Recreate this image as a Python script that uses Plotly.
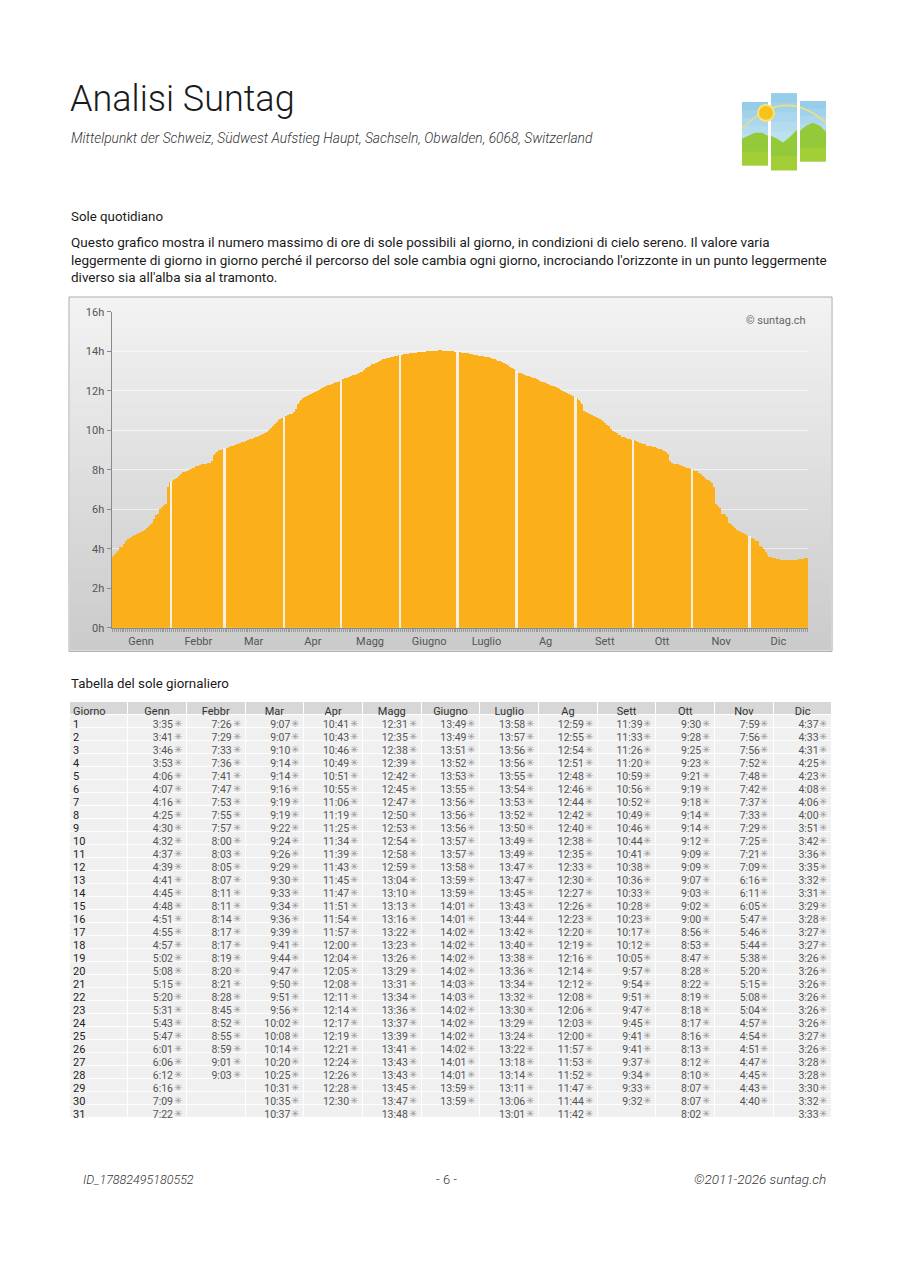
import plotly.graph_objects as go

# Dimensioni della pagina
W, H = 910, 1287

mesi = ['Genn', 'Febbr', 'Mar', 'Apr', 'Magg', 'Giugno', 'Luglio', 'Ag', 'Sett', 'Ott', 'Nov', 'Dic']

genn = ['3:35', '3:41', '3:46', '3:53', '4:06', '4:07', '4:16', '4:25', '4:30', '4:32', '4:37', '4:39', '4:41', '4:45', '4:48', '4:51',
        '4:55', '4:57', '5:02', '5:08', '5:15', '5:20', '5:31', '5:43', '5:47', '6:01', '6:06', '6:12', '6:16', '7:09', '7:22']
febbr = ['7:26', '7:29', '7:33', '7:36', '7:41', '7:47', '7:53', '7:55', '7:57', '8:00', '8:03', '8:05', '8:07', '8:11', '8:11', '8:14',
         '8:17', '8:17', '8:19', '8:20', '8:21', '8:28', '8:45', '8:52', '8:55', '8:59', '9:01', '9:03']
mar = ['9:07', '9:07', '9:10', '9:14', '9:14', '9:16', '9:19', '9:19', '9:22', '9:24', '9:26', '9:29', '9:30', '9:33', '9:34', '9:36',
       '9:39', '9:41', '9:44', '9:47', '9:50', '9:51', '9:56', '10:02', '10:08', '10:14', '10:20', '10:25', '10:31', '10:35', '10:37']
apr = ['10:41', '10:43', '10:46', '10:49', '10:51', '10:55', '11:06', '11:19', '11:25', '11:34', '11:39', '11:43', '11:45', '11:47', '11:51',
       '11:54', '11:57', '12:00', '12:04', '12:05', '12:08', '12:11', '12:14', '12:17', '12:19', '12:21', '12:24', '12:26', '12:28', '12:30']
magg = ['12:31', '12:35', '12:38', '12:39', '12:42', '12:45', '12:47', '12:50', '12:53', '12:54', '12:58', '12:59', '13:04', '13:10', '13:13',
        '13:16', '13:22', '13:23', '13:26', '13:29', '13:31', '13:34', '13:36', '13:37', '13:39', '13:41', '13:43', '13:43', '13:45', '13:47', '13:48']
giugno = ['13:49', '13:49', '13:51', '13:52', '13:53', '13:55', '13:56', '13:56', '13:56', '13:57', '13:57', '13:58', '13:59', '13:59', '14:01',
          '14:01', '14:02', '14:02', '14:02', '14:02', '14:03', '14:03', '14:02', '14:02', '14:02', '14:02', '14:01', '14:01', '13:59', '13:59']
luglio = ['13:58', '13:57', '13:56', '13:56', '13:55', '13:54', '13:53', '13:52', '13:50', '13:49', '13:49', '13:47', '13:47', '13:45', '13:43',
          '13:44', '13:42', '13:40', '13:38', '13:36', '13:34', '13:32', '13:30', '13:29', '13:24', '13:22', '13:18', '13:14', '13:11', '13:06', '13:01']
ag = ['12:59', '12:55', '12:54', '12:51', '12:48', '12:46', '12:44', '12:42', '12:40', '12:38', '12:35', '12:33', '12:30', '12:27', '12:26',
      '12:23', '12:20', '12:19', '12:16', '12:14', '12:12', '12:08', '12:06', '12:03', '12:00', '11:57', '11:53', '11:52', '11:47', '11:44', '11:42']
sett = ['11:39', '11:33', '11:26', '11:20', '10:59', '10:56', '10:52', '10:49', '10:46', '10:44', '10:41', '10:38', '10:36', '10:33', '10:28',
        '10:23', '10:17', '10:12', '10:05', '9:57', '9:54', '9:51', '9:47', '9:45', '9:41', '9:41', '9:37', '9:34', '9:33', '9:32']
ott = ['9:30', '9:28', '9:25', '9:23', '9:21', '9:19', '9:18', '9:14', '9:14', '9:12', '9:09', '9:09', '9:07', '9:03', '9:02', '9:00',
       '8:56', '8:53', '8:47', '8:28', '8:22', '8:19', '8:18', '8:17', '8:16', '8:13', '8:12', '8:10', '8:07', '8:07', '8:02']
nov = ['7:59', '7:56', '7:56', '7:52', '7:48', '7:42', '7:37', '7:33', '7:29', '7:25', '7:21', '7:09', '6:16', '6:11', '6:05', '5:47',
       '5:46', '5:44', '5:38', '5:20', '5:15', '5:08', '5:04', '4:57', '4:54', '4:51', '4:47', '4:45', '4:43', '4:40']
dic = ['4:37', '4:33', '4:31', '4:25', '4:23', '4:08', '4:06', '4:00', '3:51', '3:42', '3:36', '3:35', '3:32', '3:31', '3:29', '3:28',
       '3:27', '3:27', '3:26', '3:26', '3:26', '3:26', '3:26', '3:26', '3:27', '3:26', '3:28', '3:28', '3:30', '3:32', '3:33']

dati_mesi = [genn, febbr, mar, apr, magg, giugno, luglio, ag, sett, ott, nov, dic]
giorni_mese = [str(d) for d in range(1, 32)]


def ore(s):
    h, m = s.split(':')
    return int(h) + int(m) / 60


# conversione pixel -> paper
def px(x):
    return x / W


def py(y):
    return 1 - y / H


# Serie giornaliera e posizioni dei mesi
giorni_y = []
inizio_mese = []
for valori in dati_mesi:
    inizio_mese.append(len(giorni_y))
    giorni_y += [ore(v) for v in valori]
giorni_x = list(range(len(giorni_y)))

# etichette dei mesi al centro di ogni mese
tick_text = [''] * len(giorni_x)
for i, valori in enumerate(dati_mesi):
    tick_text[inizio_mese[i] + len(valori) // 2] = mesi[i]

# separatori tra i mesi
sep_x = [inizio_mese[i] - 0.5 for i in range(1, 12)]
sep_y = [max(giorni_y[inizio_mese[i] - 1], giorni_y[inizio_mese[i]]) for i in range(1, 12)]

fig = go.Figure()

fig.add_trace(go.Bar(x=giorni_x, y=giorni_y, marker=dict(color='#FBB01A', line=dict(width=0)),
                     hoverinfo='skip', showlegend=False))
fig.add_trace(go.Bar(x=sep_x, y=sep_y, width=1.3, marker=dict(color='#F5F0E6', line=dict(width=0)),
                     hoverinfo='skip', showlegend=False))

# Tabella: fondo, testi e asterischi su tabelle sovrapposte
vuoto = 'rgba(0,0,0,0)'
tab_top, tab_bot = 703, 1140
righe = 31
colonne_mesi = [v + [''] * (righe - len(v)) for v in dati_mesi]


def tabella(dx, dy, header, celle, align_h, align_c, colori, size, fill_h=vuoto, fill_c=vuoto, linea=vuoto):
    return go.Table(
        domain=dict(x=[px(69 + dx), px(832 + dx)], y=[py(tab_bot + dy), py(tab_top + dy)]),
        columnwidth=[1] * 13,
        header=dict(values=header, height=13, align=align_h, fill_color=fill_h,
                    line=dict(color=linea, width=1),
                    font=dict(family='Roboto', size=11, color='#333333')),
        cells=dict(values=celle, height=13, align=align_c, fill_color=fill_c,
                   line=dict(color=linea, width=1),
                   font=dict(family='Roboto', size=size, color=colori)))


# fondo
fig.add_trace(tabella(0, 0, [''] * 13, [[''] * righe] * 13, 'center', 'center', '#333333', 11,
                      fill_h='#D7D7D7', fill_c='#F0F0F0', linea='white'))
# intestazioni dei mesi e valori
fig.add_trace(tabella(0, -3, [''] + mesi, [[''] * righe] + [[v + '\u2002' if v else '' for v in c] for c in colonne_mesi],
                      'center', 'right', '#555555', 10.5))
# colonna Giorno
fig.add_trace(tabella(-4, -3, ['Giorno'] + [''] * 12, [giorni_mese] + [[''] * righe] * 12,
                      'left', 'left', '#222222', 11))
# asterischi
fig.add_trace(tabella(4, -3, [''] * 13, [[''] * righe] + [['✳' if v else '' for v in c] for c in colonne_mesi],
                      'center', 'right', '#9a9a9a', 10))

# Sfondo a gradiente del grafico
shapes = []
y0, y1 = 295, 651
n = 60
for k in range(n):
    t = k / (n - 1)
    c = int(243 - t * 40)
    shapes.append(dict(type='rect', xref='paper', yref='paper', layer='below',
                       x0=px(70), x1=px(831), y0=py(y0 + (y1 - y0) * k / n),
                       y1=py(min(y1, y0 + (y1 - y0) * (k + 1) / n + 1)),
                       fillcolor=f'rgb({c},{c},{c})', line=dict(width=0)))
shapes.append(dict(type='rect', xref='paper', yref='paper', layer='below',
                   x0=px(69), x1=px(832), y0=py(294), y1=py(652),
                   line=dict(color='#A8A8A8', width=1)))

# Logo
pannelli = [(742, 97, 768, 161), (771, 88, 797, 166), (800, 96, 826, 157)]
for (a, b, c2, d) in pannelli:
    m = 8
    for k in range(m):
        t = k / (m - 1)
        r = int(150 + t * 70)
        g = int(205 + t * 35)
        bl = int(232 + t * 18)
        shapes.append(dict(type='rect', xref='paper', yref='paper', x0=px(a), x1=px(c2),
                           y0=py(b + (d - b) * k / m), y1=py(min(d, b + (d - b) * (k + 1) / m + 1)),
                           fillcolor=f'rgb({r},{g},{bl})', line=dict(width=0)))


def path(pts):
    return 'M ' + ' L '.join(f'{px(x):.5f},{py(y):.5f}' for x, y in pts) + ' Z'


# arco del sole
arco = 'M {},{} Q {},{} {},{}'.format(px(742), py(124), px(784), py(80), px(826), py(118))
shapes.append(dict(type='path', xref='paper', yref='paper', path=arco,
                   line=dict(color='#F0DF7A', width=1.5)))
# colline
colline = [
    [(742, 134), (748, 131), (755, 128), (762, 128), (768, 131), (768, 161), (742, 161)],
    [(771, 131), (777, 134), (783, 138), (789, 133), (797, 125), (797, 166), (771, 166)],
    [(800, 126), (806, 121), (813, 118), (820, 121), (826, 127), (826, 157), (800, 157)],
]
for pts in colline:
    shapes.append(dict(type='path', xref='paper', yref='paper', path=path(pts),
                       fillcolor='#94C93A', line=dict(width=0)))
for (a, b, c2, d) in pannelli:
    shapes.append(dict(type='rect', xref='paper', yref='paper', x0=px(a), x1=px(c2),
                       y0=py(d - 14), y1=py(d), fillcolor='#A9D234', line=dict(width=0), opacity=0.7))
# spazi bianchi tra i pannelli
for (a, c2) in [(768, 771), (797, 800)]:
    shapes.append(dict(type='rect', xref='paper', yref='paper', x0=px(a), x1=px(c2),
                       y0=py(86), y1=py(168), fillcolor='white', line=dict(width=0)))
# sole
shapes.append(dict(type='circle', xref='paper', yref='paper', x0=px(757), x1=px(775),
                   y0=py(99), y1=py(117), fillcolor='#FBE27A', line=dict(width=0)))
shapes.append(dict(type='circle', xref='paper', yref='paper', x0=px(759), x1=px(773),
                   y0=py(101), y1=py(115), fillcolor='#F6C21C', line=dict(width=0)))

# Testi
font = 'Roboto'
annotations = [
    dict(x=px(68), y=py(94), text='Analisi Suntag', xanchor='left', yanchor='middle',
         font=dict(family=font, size=36, color='#1a1a1a', weight=300)),
    dict(x=px(69), y=py(133), text='<i>Mittelpunkt der Schweiz, Südwest Aufstieg Haupt, Sachseln, Obwalden, 6068, Switzerland</i>',
         xanchor='left', yanchor='middle', font=dict(family=font, size=13.8, color='#333333', weight=300)),
    dict(x=px(69), y=py(213), text='Sole quotidiano', xanchor='left', yanchor='middle',
         font=dict(family=font, size=13.3, color='#1a1a1a')),
    dict(x=px(69), y=py(256), align='left', xanchor='left', yanchor='middle',
         text='Questo grafico mostra il numero massimo di ore di sole possibili al giorno, in condizioni di cielo sereno. Il valore varia<br>'
              'leggermente di giorno in giorno perché il percorso del sole cambia ogni giorno, incrociando l\'orizzonte in un punto leggermente<br>'
              'diverso sia all\'alba sia al tramonto.',
         font=dict(family=font, size=13.5, color='#1a1a1a')),
    dict(x=px(808), y=py(318), text='© suntag.ch', xanchor='right', yanchor='middle',
         font=dict(family=font, size=11, color='#666666')),
    dict(x=px(69), y=py(684), text='Tabella del sole giornaliero', xanchor='left', yanchor='middle',
         font=dict(family=font, size=13.3, color='#1a1a1a')),
    dict(x=px(81), y=py(1185), text='<i>ID_17882495180552</i>', xanchor='left', yanchor='middle',
         font=dict(family=font, size=12.5, color='#333333', weight=300)),
    dict(x=px(446), y=py(1185), text='- 6 -', xanchor='center', yanchor='middle',
         font=dict(family=font, size=13, color='#333333', weight=300)),
    dict(x=px(828), y=py(1185), text='<i>©2011-2026 suntag.ch</i>', xanchor='right', yanchor='middle',
         font=dict(family=font, size=13.5, color='#333333', weight=300)),
]
for a in annotations:
    a.update(xref='paper', yref='paper', showarrow=False)

fig.update_layout(
    width=W, height=H,
    margin=dict(l=0, r=0, t=0, b=0),
    paper_bgcolor='white', plot_bgcolor='rgba(0,0,0,0)',
    bargap=0, barmode='overlay',
    font=dict(family=font, color='#333333'),
    shapes=shapes, annotations=annotations,
    xaxis=dict(domain=[px(111.5), px(808)], range=[-0.5, len(giorni_x) - 0.5],
               tickmode='array', tickvals=giorni_x, ticktext=tick_text, tickangle=0,
               ticks='outside', ticklen=3, tickwidth=1, tickcolor='#999999',
               showline=True, linecolor='#8a8a8a', linewidth=1, showgrid=False, zeroline=False,
               tickfont=dict(family=font, size=11, color='#555555')),
    yaxis=dict(domain=[py(628), py(309)], range=[0, 16], dtick=2, ticksuffix='h',
               ticks='outside', ticklen=4, tickcolor='#8a8a8a',
               showline=True, linecolor='#8a8a8a', linewidth=1,
               showgrid=True, gridcolor='rgba(255,255,255,0.55)', gridwidth=1, zeroline=False,
               tickfont=dict(family=font, size=11, color='#555555')),
)

fig.write_html('out.html', config={'displayModeBar': False},
               post_script="document.body.style.margin='0';document.body.style.overflow='hidden';")
